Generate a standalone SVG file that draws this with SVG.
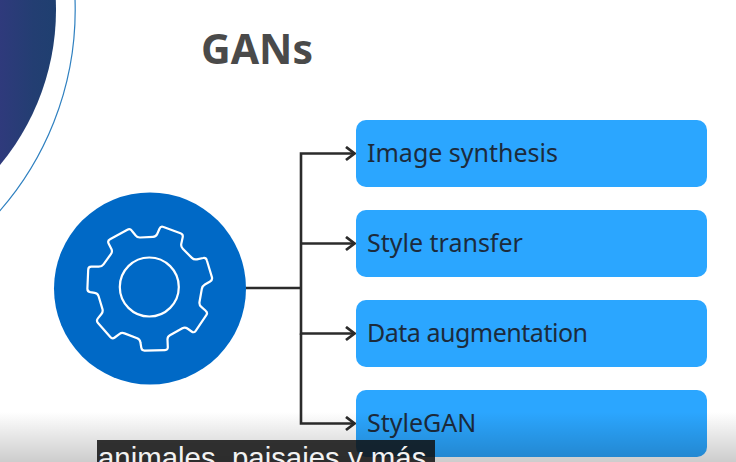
<svg xmlns="http://www.w3.org/2000/svg" width="736" height="462" viewBox="0 0 736 462">
<style>
.box{fill:#2ba6ff}
.lbl{font-family:"Noto Sans","Open Sans",sans-serif;font-size:25px;fill:#1c2b3c}
.conn{fill:none;stroke:#2b2b2b;stroke-width:2.6}
</style>
<defs>
<linearGradient id="dark" gradientUnits="userSpaceOnUse" x1="0" x2="56" y1="0" y2="0"><stop offset="0" stop-color="#2f3a7c"/><stop offset="0.6" stop-color="#233e72"/><stop offset="1" stop-color="#1f3f70"/></linearGradient>
<linearGradient id="fade" x1="0" x2="0" y1="0" y2="1"><stop offset="0" stop-color="#000" stop-opacity="0"/><stop offset="1" stop-color="#000" stop-opacity="0.2"/></linearGradient>
<marker id="arrow" markerUnits="userSpaceOnUse" markerWidth="14" markerHeight="16" refX="12" refY="8" orient="auto"><path d="M3 1.500L11.500 8L3 14.500" fill="none" stroke="#2b2b2b" stroke-width="2.800"/></marker>
</defs>
<rect width="736" height="462" fill="#fff"/>
<circle cx="-186.500" cy="10" r="242.500" fill="url(#dark)"/>
<circle cx="-229.800" cy="10" r="305" fill="none" stroke="#2f80c0" stroke-width="1.200"/>
<text x="201" y="64" font-family="'Noto Sans','Open Sans',sans-serif" font-weight="700" font-size="41" fill="#4a4a4a">GANs</text>
<g id="connectors">
<path class="conn" d="M246 288H301"/>
<path class="conn" d="M301 288V153.500H355" marker-end="url(#arrow)"/>
<path class="conn" d="M301 243.500H355" marker-end="url(#arrow)"/>
<path class="conn" d="M301 288V333.500H355" marker-end="url(#arrow)"/>
<path class="conn" d="M301 333.500V423.500H355" marker-end="url(#arrow)"/>
</g>
<g id="gear-node">
<circle cx="150" cy="288.500" r="96" fill="#0069c6"/>
<path d="M127.400 229.700Q130 228.300 131.800 230.700L135.500 235.300Q137.300 237.700 140.300 237.500L153 236.900Q156 236.700 157.200 234L159.500 228.700Q160.700 226 163.500 227L180.500 233.300Q183.300 234.300 182.700 237.200L181.300 243.800Q180.700 246.700 182.800 248.800L191.900 257.900Q194 260 196.900 259.300L203.100 258Q206 257.300 206.800 260.200L211.900 277.100Q212.700 280 210.100 281.500L204.900 284.500Q202.300 286 201.800 289L199.500 302Q199 305 201.300 306.900L205.700 310.800Q208 312.700 206.300 315.200L195.700 330.800Q194 333.300 191.600 331.500L187.400 328.500Q185 326.700 182.400 328.200L169.900 335.200Q167.300 336.700 167.500 339.700L167.800 347Q168 350 165 350.100L144.700 350.600Q141.700 350.700 141.300 347.700L140.400 342.300Q140 339.300 137.200 338.200L124.500 333.400Q121.700 332.300 119.300 334.100L114.700 337.500Q112.300 339.300 110.300 337L98 323Q96 320.700 97.900 318.400L101.400 314Q103.300 311.700 102.400 308.800L98.600 296.200Q97.700 293.300 94.700 292.800L90.300 292.200Q87.300 291.700 87.400 288.700L88.200 269.700Q88.300 266.700 91.300 266.700L98.700 266.700Q101.700 266.700 103.500 264.300L110.900 254.100Q112.700 251.700 111.400 249L108.600 243.400Q107.300 240.700 110 239.300Z" fill="none" stroke="#fff" stroke-width="2.200" stroke-linejoin="round"/>
<circle cx="149.300" cy="287" r="29.500" fill="none" stroke="#fff" stroke-width="2.200"/>
</g>
<g id="node-image-synthesis"><rect class="box" x="356" y="120" width="351" height="67" rx="10"/><text class="lbl" x="367" y="162">Image synthesis</text></g>
<g id="node-style-transfer"><rect class="box" x="356" y="210" width="351" height="67" rx="10"/><text class="lbl" x="367" y="252">Style transfer</text></g>
<g id="node-data-augmentation"><rect class="box" x="356" y="300" width="351" height="67" rx="10"/><text class="lbl" x="367" y="342" textLength="221">Data augmentation</text></g>
<g id="node-stylegan"><rect class="box" x="356" y="390" width="351" height="67" rx="10"/><text class="lbl" x="367" y="432">StyleGAN</text></g>
<rect x="0" y="412" width="736" height="50" fill="url(#fade)"/>
<rect x="97" y="440" width="338" height="22" fill="#111" fill-opacity="0.85"/>
<text x="98" y="468" font-family="'Liberation Sans',Arial,sans-serif" font-size="29.400" fill="#f2f2f2">animales, paisajes y más</text>
</svg>
